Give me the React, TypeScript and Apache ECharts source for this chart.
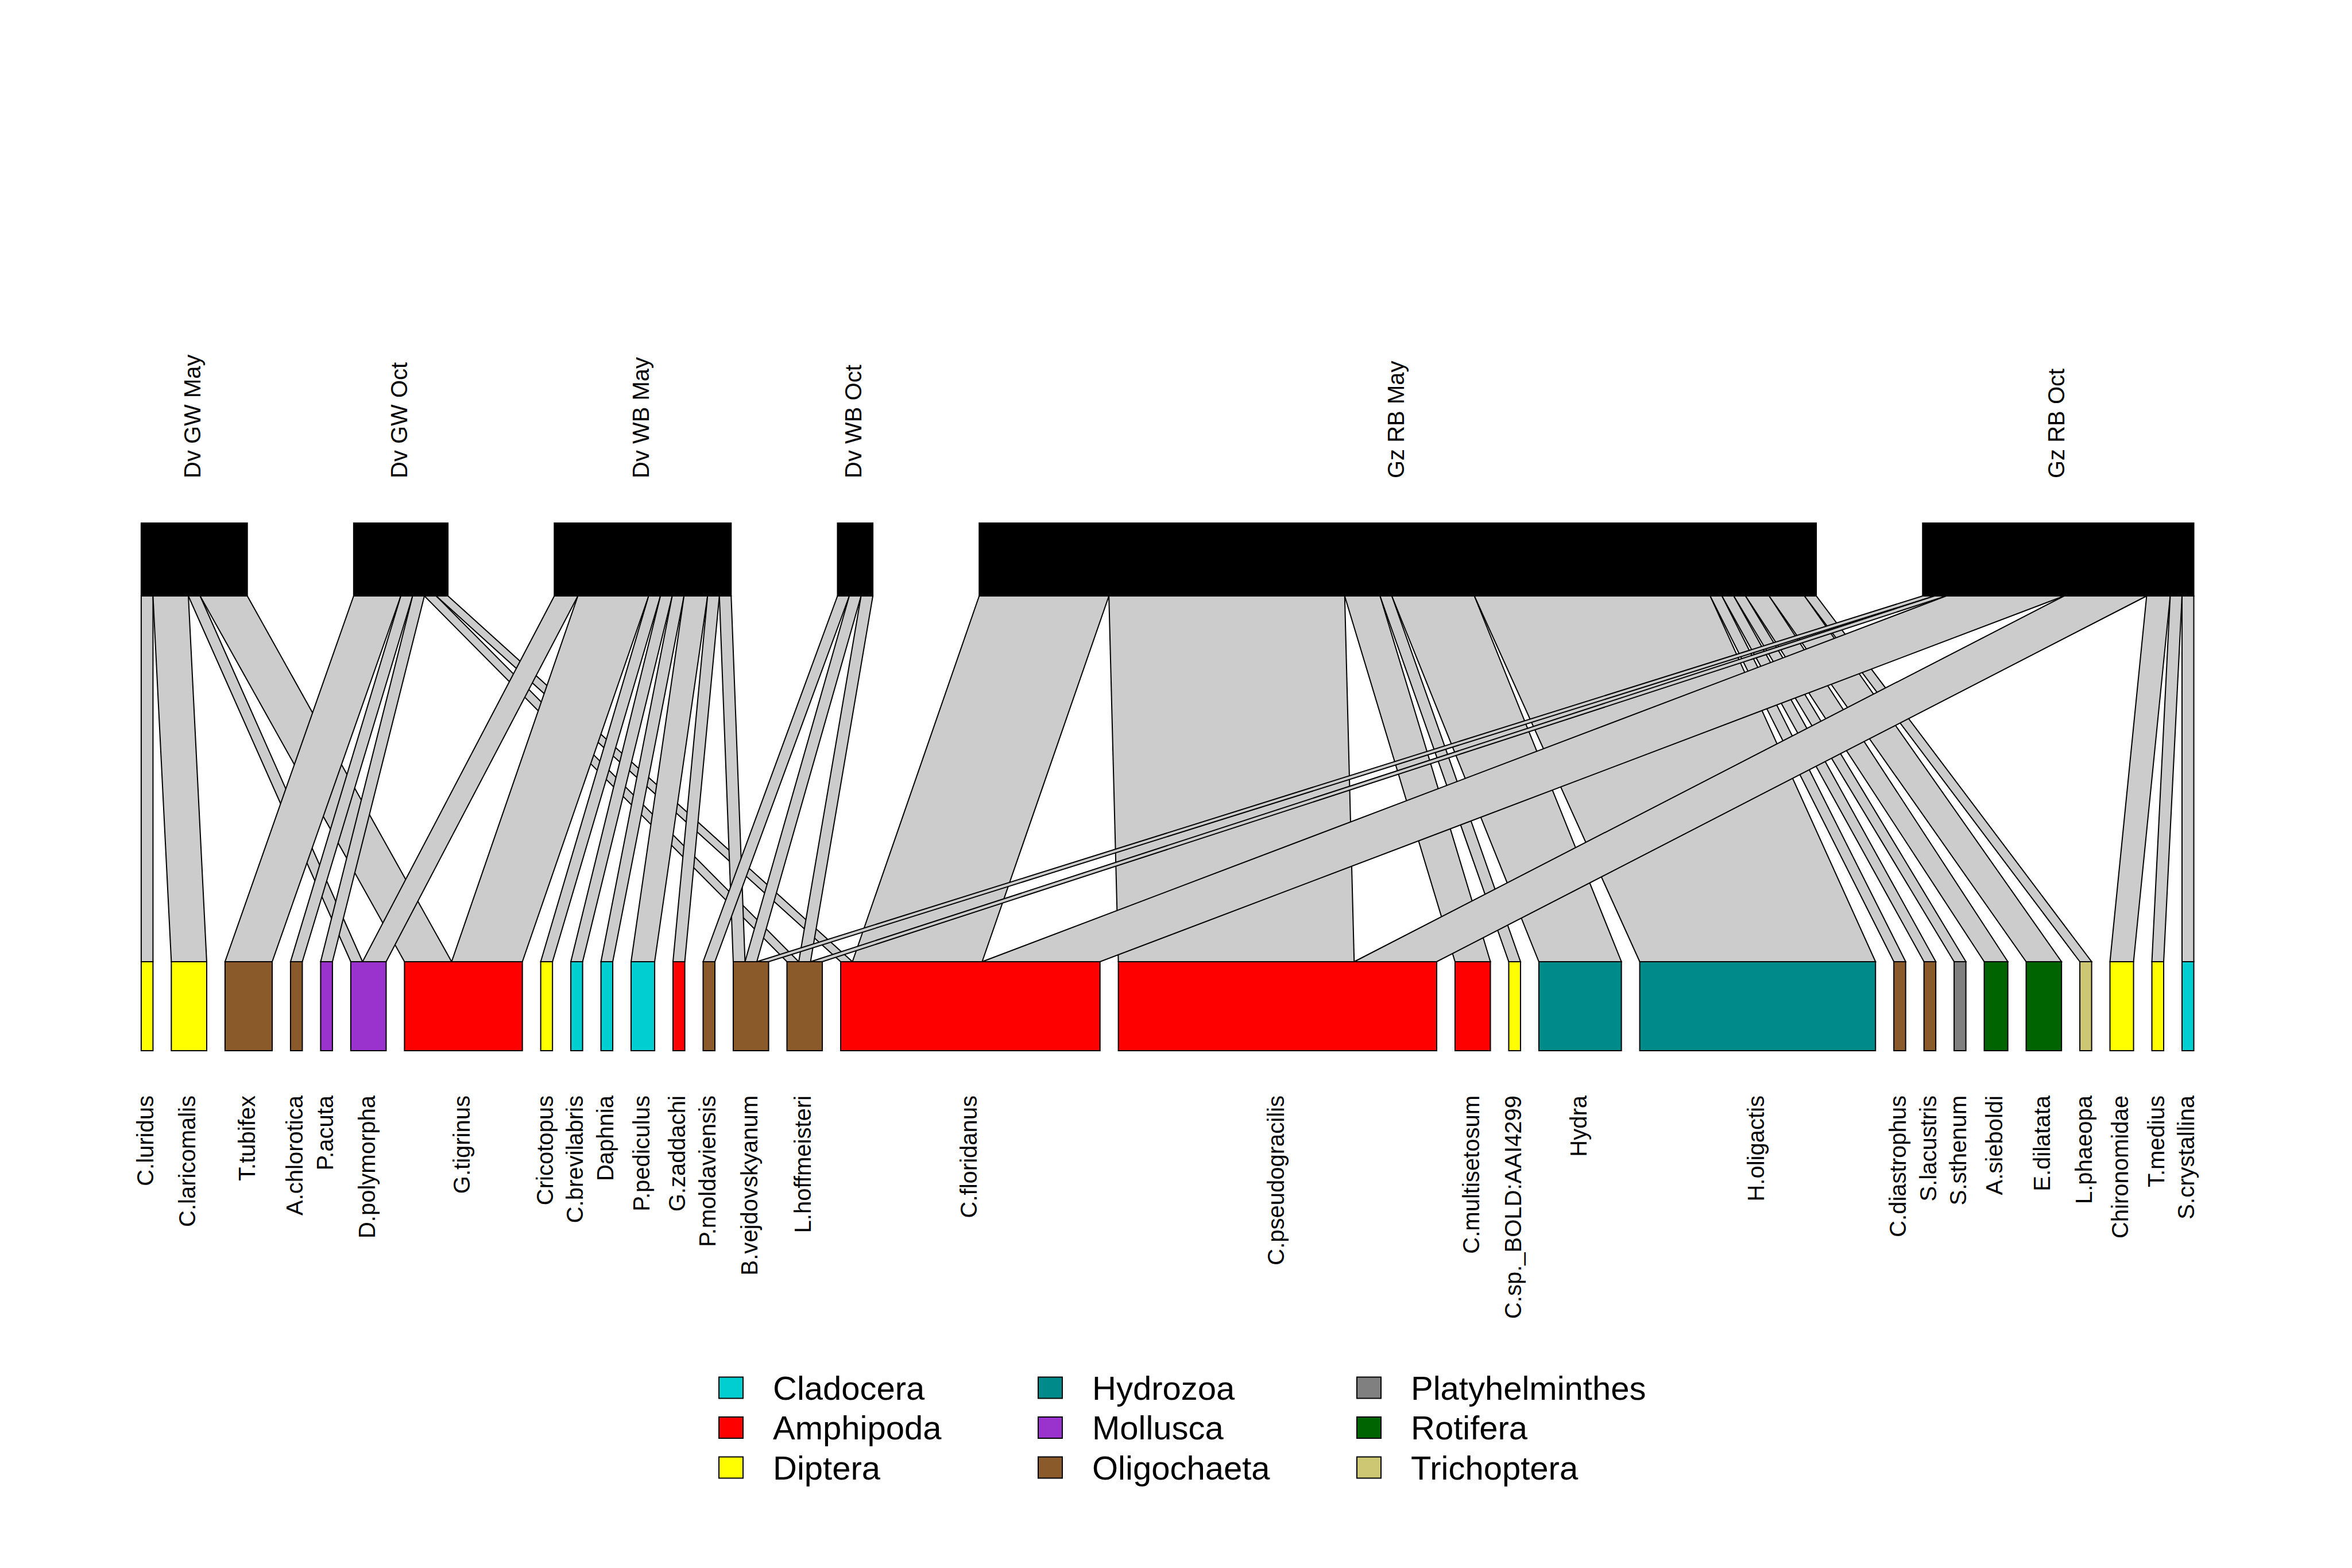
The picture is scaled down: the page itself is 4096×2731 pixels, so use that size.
import React, { useEffect, useRef } from "react";
import * as echarts from "echarts";

// ---------------- DATA ----------------
const higherSpecies = ["Dv GW May", "Dv GW Oct", "Dv WB May", "Dv WB Oct", "Gz RB May", "Gz RB Oct"];

const lowerSpecies = [
  "C.luridus", "C.laricomalis", "T.tubifex", "A.chlorotica", "P.acuta", "D.polymorpha", "G.tigrinus",
  "Cricotopus", "C.brevilabris", "Daphnia", "P.pediculus", "G.zaddachi", "P.moldaviensis",
  "B.vejdovskyanum", "L.hoffmeisteri", "C.floridanus", "C.pseudogracilis", "C.multisetosum",
  "C.sp._BOLD:AAI4299", "Hydra", "H.oligactis", "C.diastrophus", "S.lacustris", "S.sthenum",
  "A.sieboldi", "E.dilatata", "L.phaeopa", "Chironomidae", "T.medius", "S.crystallina",
];

const lowerGroups = [
  "Diptera", "Diptera", "Oligochaeta", "Oligochaeta", "Mollusca", "Mollusca", "Amphipoda",
  "Diptera", "Cladocera", "Cladocera", "Cladocera", "Amphipoda", "Oligochaeta",
  "Oligochaeta", "Oligochaeta", "Amphipoda", "Amphipoda", "Amphipoda",
  "Diptera", "Hydrozoa", "Hydrozoa", "Oligochaeta", "Oligochaeta", "Platyhelminthes",
  "Rotifera", "Rotifera", "Trichoptera", "Diptera", "Diptera", "Cladocera",
];

const groupNames = ["Cladocera", "Amphipoda", "Diptera", "Hydrozoa", "Mollusca", "Oligochaeta", "Platyhelminthes", "Rotifera", "Trichoptera"];
const groupColors = ["#00CED1", "#FF0000", "#FFFF00", "#008B8B", "#9A32CD", "#8B5A2B", "#808080", "#006400", "#CDC673"];

// interactions per sampling site (higher level)
const dvGwMay: [string, number][] = [["C.luridus", 1], ["C.laricomalis", 3], ["D.polymorpha", 1], ["G.tigrinus", 4]];
const dvGwOct: [string, number][] = [["T.tubifex", 4], ["A.chlorotica", 1], ["P.acuta", 1], ["L.hoffmeisteri", 1], ["C.floridanus", 1]];
const dvWbMay: [string, number][] = [["D.polymorpha", 2], ["G.tigrinus", 6], ["Cricotopus", 1], ["C.brevilabris", 1], ["Daphnia", 1], ["P.pediculus", 2], ["G.zaddachi", 1], ["B.vejdovskyanum", 1]];
const dvWbOct: [string, number][] = [["P.moldaviensis", 1], ["B.vejdovskyanum", 1], ["L.hoffmeisteri", 1]];
const gzRbMay: [string, number][] = [["C.floridanus", 11], ["C.pseudogracilis", 20], ["C.multisetosum", 3], ["C.sp._BOLD:AAI4299", 1], ["Hydra", 7], ["H.oligactis", 20], ["C.diastrophus", 1], ["S.lacustris", 1], ["S.sthenum", 1], ["A.sieboldi", 2], ["E.dilatata", 3], ["L.phaeopa", 1]];
const gzRbOct: [string, number][] = [["B.vejdovskyanum", 1], ["L.hoffmeisteri", 1], ["C.floridanus", 10], ["C.pseudogracilis", 7], ["Chironomidae", 2], ["T.medius", 1], ["S.crystallina", 1]];

const webRows = [dvGwMay, dvGwOct, dvWbMay, dvWbOct, gzRbMay, gzRbOct];

// ---------------- LAYOUT (styling) ----------------
const W = 4096;
const H = 2731;
const LOW_GAP = 1.555; // gap between lower boxes, in interaction units
const GRID_LEFT = 245.9;
const GRID_RIGHT = W - 3820.5;
const GRID_TOP = 911;
const GRID_BOTTOM_PX = 1830;
const Y_TOP_BOT = 1 - (1038 - 911) / (1830 - 911);
const Y_LOW_TOP = (1830 - 1675) / (1830 - 911);
const LABEL_OFFSET = 78;
const LABEL_SHIFT = -3;
const FONT = "Liberation Sans, Arial, Helvetica, sans-serif";
const LW = 2;

type Link = { h: number; l: number; v: number };

function buildOption() {
  const links: Link[] = [];
  webRows.forEach((row, h) =>
    row.forEach(([name, v]) => links.push({ h, l: lowerSpecies.indexOf(name), v }))
  );
  links.sort((a, b) => a.h - b.h || a.l - b.l);

  const lowTot = lowerSpecies.map((_, j) => links.filter((k) => k.l === j).reduce((s, k) => s + k.v, 0));
  const highTot = higherSpecies.map((_, i) => links.filter((k) => k.h === i).reduce((s, k) => s + k.v, 0));

  const lowStart: number[] = [];
  let acc = 0;
  lowTot.forEach((t) => {
    lowStart.push(acc);
    acc += t + LOW_GAP;
  });
  const span = acc - LOW_GAP;
  const highSum = highTot.reduce((s, t) => s + t, 0);
  const highGap = (span - highSum) / (higherSpecies.length - 1);
  const highStart: number[] = [];
  acc = 0;
  highTot.forEach((t) => {
    highStart.push(acc);
    acc += t + highGap;
  });

  const topOff = highStart.slice();
  const linkTop = links.map((k) => {
    const x0 = topOff[k.h];
    topOff[k.h] += k.v;
    return [x0, x0 + k.v];
  });
  const botOff = lowStart.slice();
  const linkBot: number[][] = [];
  links
    .map((_, i) => i)
    .sort((a, b) => links[a].l - links[b].l || links[a].h - links[b].h)
    .forEach((i) => {
      const k = links[i];
      linkBot[i] = [botOff[k.l], botOff[k.l] + k.v];
      botOff[k.l] += k.v;
    });

  const series: any[] = [];

  // links
  series.push({
    type: "custom",
    name: "links",
    coordinateSystem: "cartesian2d",
    clip: false,
    silent: true,
    data: links.map((_, i) => [linkTop[i][0], linkTop[i][1], linkBot[i][0], linkBot[i][1]]),
    renderItem: (_p: any, api: any) => {
      const a = api.coord([api.value(0), Y_TOP_BOT]);
      const b = api.coord([api.value(1), Y_TOP_BOT]);
      const c = api.coord([api.value(3), Y_LOW_TOP]);
      const d = api.coord([api.value(2), Y_LOW_TOP]);
      return {
        type: "polygon",
        shape: { points: [a, b, c, d] },
        style: { fill: "#CCCCCC", stroke: "#000", lineWidth: LW },
      };
    },
  });

  // higher boxes
  series.push({
    type: "custom",
    name: "higher",
    coordinateSystem: "cartesian2d",
    clip: false,
    silent: true,
    data: highTot.map((t, i) => [highStart[i], highStart[i] + t]),
    renderItem: (_p: any, api: any) => {
      const p0 = api.coord([api.value(0), 1]);
      const p1 = api.coord([api.value(1), Y_TOP_BOT]);
      return {
        type: "rect",
        shape: { x: p0[0], y: p0[1], width: p1[0] - p0[0], height: p1[1] - p0[1] },
        style: { fill: "#000", stroke: "#000", lineWidth: LW },
      };
    },
  });

  // lower boxes, one series per group
  groupNames.forEach((g, gi) => {
    const idx = lowerSpecies.map((_, j) => j).filter((j) => lowerGroups[j] === g);
    series.push({
      type: "custom",
      name: g,
      coordinateSystem: "cartesian2d",
      clip: false,
      silent: true,
      itemStyle: { color: groupColors[gi], borderColor: "#000", borderWidth: LW },
      data: idx.map((j) => [lowStart[j], lowStart[j] + lowTot[j]]),
      renderItem: (_p: any, api: any) => {
        const p0 = api.coord([api.value(0), Y_LOW_TOP]);
        const p1 = api.coord([api.value(1), 0]);
        return {
          type: "rect",
          shape: { x: p0[0], y: p0[1], width: p1[0] - p0[0], height: p1[1] - p0[1] },
          style: { fill: groupColors[gi], stroke: "#000", lineWidth: LW },
        };
      },
    });
  });

  // higher labels
  series.push({
    type: "custom",
    name: "higherLabels",
    coordinateSystem: "cartesian2d",
    clip: false,
    silent: true,
    data: highTot.map((t, i) => [highStart[i] + t / 2]),
    renderItem: (p: any, api: any) => {
      const pt = api.coord([api.value(0), 1]);
      return {
        type: "text",
        x: pt[0] + LABEL_SHIFT,
        y: pt[1] - LABEL_OFFSET,
        rotation: Math.PI / 2,
        style: {
          text: higherSpecies[p.dataIndex],
          fontSize: 40,
          fontFamily: FONT,
          fill: "#000",
          align: "left",
          verticalAlign: "middle",
        },
      };
    },
  });

  // lower labels
  series.push({
    type: "custom",
    name: "lowerLabels",
    coordinateSystem: "cartesian2d",
    clip: false,
    silent: true,
    data: lowTot.map((t, j) => [lowStart[j] + t / 2]),
    renderItem: (p: any, api: any) => {
      const pt = api.coord([api.value(0), 0]);
      return {
        type: "text",
        x: pt[0] + LABEL_SHIFT,
        y: pt[1] + LABEL_OFFSET,
        rotation: Math.PI / 2,
        style: {
          text: lowerSpecies[p.dataIndex],
          fontSize: 40,
          fontFamily: FONT,
          fill: "#000",
          align: "right",
          verticalAlign: "middle",
        },
      };
    },
  });

  const legendLefts = [1251, 1807, 2362];
  const legend = [0, 1, 2].map((c) => ({
    data: groupNames.slice(c * 3, c * 3 + 3).map((n) => ({ name: n, icon: "rect" })),
    orient: "vertical",
    left: legendLefts[c],
    top: 2387,
    padding: 0,
    itemWidth: 42,
    itemHeight: 37,
    itemGap: 9.5,
    selectedMode: false,
    itemStyle: { borderColor: "#000", borderWidth: LW },
    textStyle: { fontSize: 58, fontFamily: FONT, color: "#000", lineHeight: 60, padding: [0, 0, 0, 47] },
  }));

  return {
    animation: false,
    backgroundColor: "#fff",
    grid: { left: GRID_LEFT, right: GRID_RIGHT, top: GRID_TOP, bottom: H - GRID_BOTTOM_PX, containLabel: false },
    xAxis: { type: "value", min: 0, max: span, show: false },
    yAxis: { type: "value", min: 0, max: 1, show: false },
    legend,
    series,
  };
}

export default function App() {
  const ref = useRef<HTMLDivElement>(null);
  useEffect(() => {
    const chart = echarts.init(ref.current!, null, { renderer: "svg" });
    chart.setOption(buildOption() as any);
    return () => chart.dispose();
  }, []);
  return (
    <div
      ref={ref}
      style={{ position: "fixed", left: 0, top: 0, width: W, height: H, background: "#fff" }}
    />
  );
}
